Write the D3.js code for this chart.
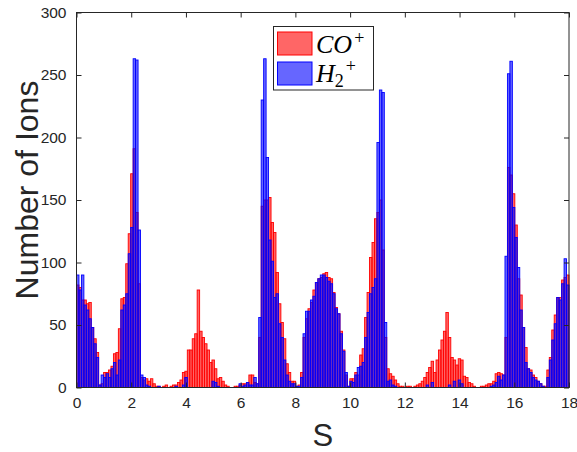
<!DOCTYPE html>
<html>
<head>
<meta charset="utf-8">
<script src="https://cdn.jsdelivr.net/npm/d3@7/dist/d3.min.js"></script>
<style>
  body { margin: 0; background: #fff; }
  text { font-family: "Liberation Sans", Arial, Helvetica, sans-serif; fill: #262626; }
</style>
</head>
<body>
<svg id="chart" width="577" height="452"></svg>
<script>
/* global d3 */

// histogram bins: 200 bins of width 0.09 from S = 0 to 18
const binWidth = 0.09;

// CO+ counts per bin
const coCounts = [
  82, 80, 70, 70, 67, 68, 48, 39, 28, 2, 3, 12, 12, 14, 17, 27, 28, 47, 71, 72,
  99, 123, 171, 191, 140, 83, 8, 6, 7, 5, 7, 3, 1, 1, 0, 1, 2, 0, 1, 2,
  2, 4, 6, 12, 13, 30, 30, 39, 43, 78, 45, 40, 35, 30, 20, 22, 15, 7, 8, 5,
  2, 1, 0, 0, 1, 1, 2, 3, 3, 4, 10, 10, 4, 3, 40, 145, 150, 150, 152, 132,
  124, 92, 67, 52, 39, 19, 12, 5, 5, 1, 2, 12, 40, 55, 63, 68, 78, 84, 87, 88,
  91, 92, 88, 87, 76, 64, 59, 45, 30, 10, 1, 7, 7, 12, 10, 26, 31, 56, 76, 104,
  116, 135, 140, 150, 110, 40, 15, 11, 9, 6, 3, 1, 1, 0, 1, 1, 0, 1, 2, 3,
  5, 8, 12, 16, 21, 12, 22, 30, 38, 45, 60, 40, 24, 22, 18, 23, 22, 9, 8, 4,
  3, 1, 0, 0, 1, 1, 2, 3, 3, 5, 11, 12, 11, 10, 40, 176, 170, 155, 130, 87,
  74, 48, 32, 15, 14, 10, 8, 5, 3, 1, 1, 14, 24, 46, 58, 72, 72, 86, 88, 90,
];

// H2+ counts per bin
const h2Counts = [
  90, 78, 90, 66, 62, 55, 48, 35, 24, 2, 10, 8, 11, 8, 15, 20, 10, 22, 62, 66,
  75, 107, 128, 263, 262, 126, 10, 8, 2, 1, 0, 0, 0, 1, 0, 0, 0, 0, 0, 0,
  1, 0, 0, 2, 8, 0, 0, 0, 0, 0, 0, 0, 0, 0, 0, 5, 4, 1, 0, 0,
  0, 0, 0, 0, 0, 0, 3, 1, 2, 4, 2, 2, 8, 3, 56, 230, 263, 184, 118, 101,
  72, 75, 51, 40, 22, 10, 5, 3, 3, 1, 1, 8, 43, 61, 61, 70, 73, 84, 87, 90,
  90, 88, 85, 83, 75, 63, 59, 43, 29, 12, 1, 5, 4, 10, 16, 17, 20, 40, 60, 75,
  80, 87, 196, 238, 236, 52, 5, 6, 2, 1, 0, 0, 0, 0, 0, 0, 0, 0, 0, 0,
  0, 0, 2, 0, 4, 0, 0, 0, 0, 0, 0, 2, 0, 5, 0, 6, 3, 0, 0, 0,
  0, 0, 0, 0, 0, 0, 0, 0, 1, 2, 4, 9, 6, 10, 105, 251, 261, 144, 120, 96,
  62, 48, 20, 15, 12, 8, 6, 5, 3, 1, 0, 8, 22, 38, 51, 72, 70, 83, 103, 82,
];

const xTicks = [0, 2, 4, 6, 8, 10, 12, 14, 16, 18];
const yTicks = [0, 50, 100, 150, 200, 250, 300];

const svg = d3.select("#chart");
const plotLeft = 76.5;
const plotRight = 569;
const plotTop = 12.5;
const plotBottom = 387.5;

const x = d3.scaleLinear().domain([0, 18]).range([plotLeft, plotRight]);
const y = d3.scaleLinear().domain([0, 300]).range([plotBottom, plotTop]);

// draw one histogram series as bars
function drawBars(counts, color) {
  svg
    .append("g")
    .selectAll("rect")
    .data(counts.map((c, i) => ({ x0: i * binWidth, x1: (i + 1) * binWidth, c })).filter((d) => d.c > 0))
    .enter()
    .append("rect")
    .attr("x", (d) => x(d.x0))
    .attr("width", (d) => x(d.x1) - x(d.x0))
    .attr("y", (d) => y(d.c))
    .attr("height", (d) => y(0) - y(d.c))
    .attr("fill", color)
    .attr("fill-opacity", 0.6)
    .attr("stroke", color)
    .attr("stroke-width", 0.9);
}

drawBars(coCounts, "#ff0000");
drawBars(h2Counts, "#0000ff");

// axes, MATLAB style: box with inward ticks on all four sides
const tickLen = 5;
const axisColor = "#262626";

svg
  .append("rect")
  .attr("x", plotLeft)
  .attr("y", plotTop)
  .attr("width", plotRight - plotLeft)
  .attr("height", plotBottom - plotTop)
  .attr("fill", "none")
  .attr("stroke", axisColor)
  .attr("stroke-width", 1);

const xAxisBottom = d3.axisBottom(x).tickValues(xTicks).tickSizeInner(-tickLen).tickSizeOuter(0).tickPadding(9);
const gx = svg.append("g").attr("transform", `translate(0,${plotBottom})`).call(xAxisBottom);
gx.select(".domain").remove();
gx.selectAll("line").attr("stroke", axisColor);
gx.selectAll("text").style("font-size", "15.5px").attr("fill", axisColor);

const gxTop = svg.append("g").attr("transform", `translate(0,${plotTop})`)
  .call(d3.axisTop(x).tickValues(xTicks).tickSizeInner(-tickLen).tickSizeOuter(0).tickFormat(""));
gxTop.select(".domain").remove();
gxTop.selectAll("line").attr("stroke", axisColor);

const yAxisLeft = d3.axisLeft(y).tickValues(yTicks).tickSizeInner(-tickLen).tickSizeOuter(0).tickPadding(10);
const gy = svg.append("g").attr("transform", `translate(${plotLeft},0)`).call(yAxisLeft);
gy.select(".domain").remove();
gy.selectAll("line").attr("stroke", axisColor);
gy.selectAll("text").style("font-size", "15.5px").attr("fill", axisColor);

const gyRight = svg.append("g").attr("transform", `translate(${plotRight},0)`)
  .call(d3.axisRight(y).tickValues(yTicks).tickSizeInner(-tickLen).tickSizeOuter(0).tickFormat(""));
gyRight.select(".domain").remove();
gyRight.selectAll("line").attr("stroke", axisColor);

// axis labels
svg
  .append("text")
  .attr("x", (plotLeft + plotRight) / 2)
  .attr("y", 446)
  .attr("text-anchor", "middle")
  .style("font-size", "31px")
  .text("S");

svg
  .append("text")
  .attr("transform", "translate(38,190) rotate(-90)")
  .attr("text-anchor", "middle")
  .style("font-size", "32px")
  .text("Number of Ions");

// legend
const legend = svg.append("g");
legend
  .append("rect")
  .attr("x", 273.5)
  .attr("y", 26.5)
  .attr("width", 100)
  .attr("height", 63.5)
  .attr("fill", "#fff")
  .attr("stroke", axisColor)
  .attr("stroke-width", 1);

const legendItems = [
  { color: "#ff0000", y: 32 },
  { color: "#0000ff", y: 62 },
];
legend
  .selectAll(".swatch")
  .data(legendItems)
  .enter()
  .append("rect")
  .attr("x", 277.5)
  .attr("y", (d) => d.y)
  .attr("width", 34.5)
  .attr("height", 23)
  .attr("fill", (d) => d.color)
  .attr("fill-opacity", 0.6)
  .attr("stroke", (d) => d.color)
  .attr("stroke-width", 1);

const serif = '"Liberation Serif", "DejaVu Serif", serif';
const coLabel = legend.append("text").attr("x", 316).attr("y", 52.5)
  .style("font-family", serif).style("font-size", "26px").style("fill", "#000");
coLabel.append("tspan").style("font-style", "italic").text("CO");
coLabel.append("tspan").attr("dx", 2).attr("dy", -9).style("font-size", "18px").text("+");

const hLabel = legend.append("text").attr("x", 316).attr("y", 81.5)
  .style("font-family", serif).style("font-size", "26px").style("fill", "#000");
hLabel.append("tspan").style("font-style", "italic").text("H");
hLabel.append("tspan").attr("dy", 5).style("font-size", "18px").text("2");
hLabel.append("tspan").attr("dx", 2).attr("dy", -15).style("font-size", "18px").text("+");
</script>
</body>
</html>
